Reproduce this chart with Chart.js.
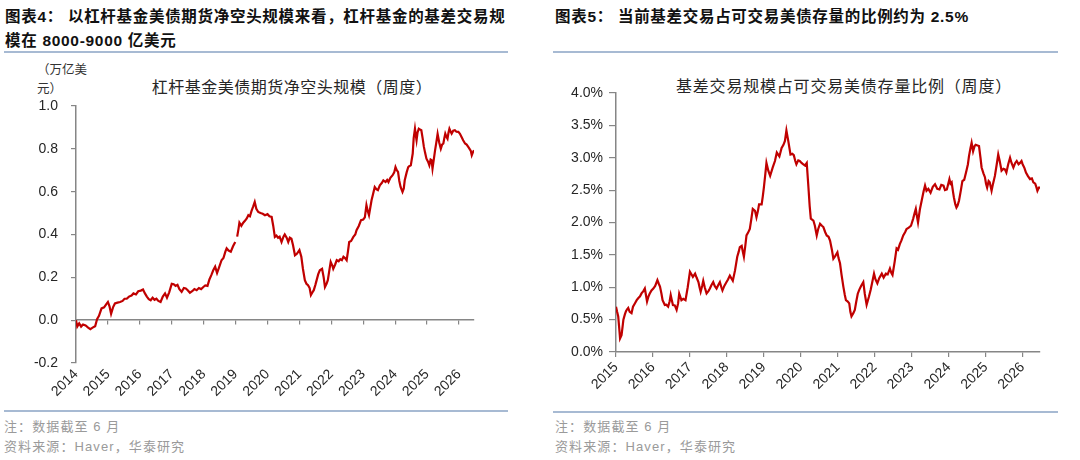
<!DOCTYPE html>
<html>
<head>
<meta charset="utf-8">
<script src="https://cdn.jsdelivr.net/npm/chart.js@4.4.1/dist/chart.umd.min.js"></script>
<style>
  body { margin: 0; background: #fff; width: 1080px; height: 460px; position: relative; overflow: hidden;
         font-family: "Liberation Sans", "Noto Sans CJK SC", sans-serif; }
  .hd { position: absolute; font-weight: bold; font-size: 15.5px; line-height: 24px; color: #111; letter-spacing: 0.7px; white-space: nowrap; }
  .rule { position: absolute; height: 2px; background: #a7bad3; }
  .note { position: absolute; font-size: 13px; line-height: 20px; color: #9a9a9a; letter-spacing: 1.1px; }
  .ttl { position: absolute; font-size: 16px; color: #262626; white-space: nowrap; transform: translate(-50%, -50%); letter-spacing: 0.5px; }
  .unit { position: absolute; font-size: 12.5px; line-height: 19px; color: #333; width: 56px; }
  canvas { position: absolute; }
</style>
</head>
<body>
<div class="hd" style="left:5px;top:5px;">图表4：&nbsp;以杠杆基金美债期货净空头规模来看，杠杆基金的基差交易规<br>模在 8000-9000 亿美元</div>
<div class="hd" style="left:555px;top:5px;">图表5：&nbsp;当前基差交易占可交易美债存量的比例约为 2.5%</div>
<div class="rule" style="left:4px;top:51px;width:504px;"></div>
<div class="rule" style="left:553px;top:51px;width:505px;"></div>

<div class="unit" style="left:37px;top:61px;">（万亿美元）</div>
<div class="ttl" style="left:292px;top:86px;">杠杆基金美债期货净空头规模（周度）</div>
<div class="ttl" style="left:844px;top:85px;letter-spacing:0.8px;">基差交易规模占可交易美债存量比例（周度）</div>

<canvas id="levChart" width="540" height="350" style="left:0;top:60px;width:540px;height:350px;"></canvas>
<canvas id="ratioChart" width="540" height="350" style="left:540px;top:60px;width:540px;height:350px;"></canvas>

<div class="rule" style="left:4px;top:410px;width:504px;"></div>
<div class="rule" style="left:553px;top:411px;width:505px;"></div>
<div class="note" style="left:4px;top:417px;">注：数据截至 6 月</div>
<div class="note" style="left:4px;top:437px;">资料来源：Haver，华泰研究</div>
<div class="note" style="left:555px;top:417px;">注：数据截至 6 月</div>
<div class="note" style="left:555px;top:437px;">资料来源：Haver，华泰研究</div>

<script>
// 杠杆基金美债期货净空头规模（万亿美元），周度，x = 年份
var levDates = [
  2014.00,2014.04,2014.10,2014.16,2014.22,2014.30,2014.38,2014.45,2014.52,2014.60,2014.66,2014.72,2014.80,2014.88,2014.95,
  2015.00,2015.05,2015.10,2015.16,2015.22,2015.30,2015.38,2015.46,2015.52,2015.59,2015.66,2015.74,2015.80,2015.88,2015.95,
  2016.03,2016.10,2016.16,2016.22,2016.28,2016.34,2016.40,2016.46,2016.52,2016.58,2016.65,2016.72,2016.79,2016.85,2016.92,
  2017.00,2017.06,2017.12,2017.18,2017.24,2017.31,2017.38,2017.44,2017.50,2017.57,2017.64,2017.71,2017.78,2017.85,2017.92,2017.99,
  2018.05,2018.12,2018.18,2018.24,2018.30,2018.36,2018.42,2018.48,2018.56,2018.62,2018.68,2018.72,2018.78,2018.85,2018.92,2018.99,
  2019.02,2019.05,2019.09,2019.12,2019.18,2019.24,2019.30,2019.35,2019.40,2019.45,2019.50,2019.55,2019.60,2019.65,2019.71,2019.78,2019.85,2019.92,
  2020.00,2020.06,2020.13,2020.18,2020.23,2020.28,2020.33,2020.38,2020.44,2020.50,2020.54,2020.60,2020.65,2020.70,2020.75,2020.80,2020.86,2020.92,
  2021.00,2021.06,2021.11,2021.17,2021.22,2021.27,2021.32,2021.36,2021.41,2021.45,2021.50,2021.54,2021.59,2021.64,2021.71,2021.76,2021.80,2021.85,2021.89,2021.94,2021.98,
  2022.03,2022.06,2022.12,2022.17,2022.23,2022.28,2022.33,2022.38,2022.43,2022.48,2022.52,2022.56,2022.62,2022.69,2022.75,2022.79,2022.86,2022.93,
  2023.00,2023.05,2023.10,2023.14,2023.18,2023.22,2023.26,2023.31,2023.36,2023.41,2023.46,2023.52,2023.58,2023.63,2023.70,2023.75,2023.79,2023.85,2023.92,2023.97,
  2024.01,2024.05,2024.09,2024.13,2024.17,2024.23,2024.27,2024.30,2024.36,2024.41,2024.45,2024.49,2024.55,2024.58,2024.62,2024.65,2024.67,2024.70,2024.74,2024.78,2024.82,2024.86,2024.90,2024.94,2024.98,
  2025.03,2025.07,2025.11,2025.14,2025.17,2025.21,2025.25,2025.29,2025.33,2025.38,2025.43,2025.47,2025.51,2025.54,2025.57,2025.61,2025.64,2025.67,2025.70,2025.74,2025.77,2025.82,2025.87,2025.92,2025.98,
  2026.03,2026.08,2026.13,2026.19,2026.24,2026.29,2026.33,2026.37,2026.40,2026.44,2026.47
];
var levValues = [
  0.00,-0.03,-0.015,-0.03,-0.02,-0.025,-0.035,-0.042,-0.035,-0.028,0.005,0.02,0.055,0.06,0.075,
  0.085,0.065,0.03,0.06,0.078,0.082,0.085,0.09,0.10,0.10,0.11,0.115,0.125,0.12,0.135,
  0.138,0.143,0.125,0.11,0.098,0.093,0.105,0.095,0.10,0.09,0.085,0.11,0.125,0.105,0.13,
  0.17,0.168,0.16,0.165,0.145,0.132,0.15,0.148,0.14,0.128,0.135,0.145,0.14,0.15,0.145,0.155,
  0.162,0.16,0.19,0.21,0.233,0.25,0.22,0.245,0.28,0.29,0.32,0.335,0.325,0.32,0.345,0.365,
  null,0.39,0.425,0.455,0.44,0.455,0.465,0.475,0.49,0.485,0.51,0.53,0.552,0.52,0.505,0.50,0.497,0.49,
  0.495,0.485,0.482,0.44,0.389,0.395,0.385,0.39,0.365,0.39,0.40,0.385,0.365,0.385,0.38,0.35,0.303,0.31,
  0.327,0.296,0.24,0.187,0.17,0.163,0.15,0.117,0.13,0.14,0.165,0.187,0.215,0.233,0.24,0.20,0.155,0.17,0.187,0.235,0.272,
  0.255,0.24,0.26,0.28,0.275,0.285,0.28,0.296,0.29,0.28,0.32,0.365,0.37,0.389,0.40,0.42,0.44,0.467,
  0.47,0.48,0.537,0.51,0.49,0.525,0.56,0.59,0.622,0.612,0.607,0.63,0.64,0.653,0.645,0.655,0.645,0.665,0.677,0.69,
  0.715,0.70,0.692,0.65,0.622,0.599,0.615,0.653,0.69,0.715,0.72,0.723,0.778,0.85,0.894,0.86,0.84,0.875,0.894,0.89,0.887,0.85,0.809,0.78,0.754,
  0.74,0.723,0.75,0.747,0.708,0.75,0.793,0.83,0.87,0.83,0.801,0.82,0.825,0.85,0.871,0.855,0.847,0.875,0.894,0.88,0.871,0.885,0.887,0.88,0.879,
  0.87,0.855,0.84,0.825,0.82,0.809,0.80,0.79,0.77,0.785,0.793
];

// 基差交易规模占可交易美债存量比例（%），周度
var ratioDates = [
  2015.00,2015.03,2015.06,2015.09,2015.11,2015.15,2015.18,2015.20,2015.24,2015.27,2015.30,2015.33,2015.37,2015.42,2015.46,2015.51,2015.56,2015.60,2015.65,2015.69,2015.74,2015.78,2015.81,2015.84,2015.88,2015.91,2015.96,
  2016.01,2016.06,2016.12,2016.16,2016.19,2016.23,2016.26,2016.32,2016.36,2016.41,2016.45,2016.48,2016.51,2016.54,2016.59,2016.64,2016.68,2016.71,2016.74,2016.77,2016.82,2016.88,2016.94,
  2017.00,2017.04,2017.08,2017.14,2017.18,2017.23,2017.26,2017.29,2017.33,2017.36,2017.40,2017.45,2017.50,2017.54,2017.58,2017.63,2017.67,2017.72,2017.77,2017.81,2017.85,2017.88,2017.93,2017.99,
  2018.03,2018.08,2018.12,2018.16,2018.22,2018.28,2018.32,2018.35,2018.40,2018.43,2018.46,2018.50,2018.53,2018.57,2018.62,2018.66,2018.70,2018.76,2018.80,2018.84,2018.87,2018.94,2018.97,
  2019.00,2019.04,2019.07,2019.12,2019.17,2019.24,2019.30,2019.35,2019.42,2019.48,2019.53,2019.57,2019.61,2019.66,2019.72,2019.77,2019.81,2019.85,2019.88,2019.93,2019.97,
  2020.02,2020.06,2020.11,2020.16,2020.20,2020.24,2020.27,2020.34,2020.38,2020.43,2020.47,2020.52,2020.57,2020.61,2020.66,2020.70,2020.75,2020.79,2020.84,2020.88,2020.93,2020.99,
  2021.02,2021.06,2021.10,2021.15,2021.19,2021.22,2021.27,2021.31,2021.34,2021.37,2021.42,2021.46,2021.50,2021.54,2021.58,2021.63,2021.69,2021.73,2021.78,2021.84,2021.89,2021.94,2021.98,
  2022.02,2022.07,2022.12,2022.19,2022.24,2022.30,2022.35,2022.41,2022.45,2022.48,2022.54,2022.59,2022.63,2022.68,2022.72,2022.77,2022.82,2022.86,2022.92,2022.98,
  2023.04,2023.08,2023.11,2023.14,2023.17,2023.22,2023.27,2023.32,2023.36,2023.40,2023.45,2023.51,2023.57,2023.63,2023.69,2023.75,2023.80,2023.86,2023.90,2023.95,
  2024.02,2024.05,2024.08,2024.11,2024.14,2024.18,2024.21,2024.24,2024.28,2024.33,2024.37,2024.42,2024.48,2024.52,2024.55,2024.59,2024.62,2024.66,2024.70,2024.73,2024.78,2024.82,2024.86,2024.89,2024.94,2024.98,
  2025.01,2025.04,2025.08,2025.11,2025.16,2025.20,2025.25,2025.30,2025.34,2025.38,2025.43,2025.48,2025.52,2025.56,2025.61,2025.66,2025.70,2025.75,2025.80,2025.84,2025.89,2025.93,2025.97,
  2026.00,2026.05,2026.09,2026.14,2026.20,2026.25,2026.29,2026.34,2026.37,2026.40,2026.44,2026.47
];
var ratioValues = [
  0.70,0.62,0.55,0.35,0.21,0.26,0.40,0.50,0.58,0.63,0.66,0.68,0.62,0.60,0.70,0.75,0.80,0.83,0.86,0.905,0.94,0.98,0.88,0.78,0.86,0.90,0.95,
  0.98,1.02,1.11,1.05,1.01,0.90,0.80,0.725,0.73,0.70,0.78,0.88,0.80,0.725,0.72,0.65,0.75,0.90,0.85,0.80,0.82,0.80,1.00,
  1.24,1.20,1.16,1.21,1.15,1.08,1.00,0.93,1.02,1.10,1.00,0.905,0.94,0.98,1.03,1.08,1.02,0.98,1.04,1.08,1.00,0.95,1.02,1.08,
  1.12,1.18,1.14,1.10,1.26,1.47,1.55,1.62,1.64,1.55,1.47,1.65,1.80,1.84,1.90,2.05,2.21,2.18,2.08,2.18,2.28,2.28,2.40,
  2.54,2.75,2.92,2.80,2.72,2.85,2.95,3.08,3.02,3.15,3.20,3.26,3.42,3.26,3.05,3.06,3.04,2.95,2.90,2.96,2.95,
  2.92,2.90,2.88,2.92,2.59,2.25,2.06,2.03,1.95,1.80,1.90,1.98,1.95,1.93,1.85,1.80,1.78,1.72,1.58,1.44,1.48,1.54,
  1.45,1.37,1.20,1.01,0.88,0.80,0.78,0.75,0.62,0.55,0.60,0.65,0.78,0.90,0.96,1.02,1.08,0.90,0.73,0.85,0.96,1.10,1.21,
  1.12,1.06,1.14,1.21,1.15,1.21,1.20,1.29,1.22,1.19,1.40,1.60,1.58,1.67,1.72,1.80,1.85,1.90,1.92,1.95,
  2.06,2.15,2.21,2.10,2.00,2.20,2.34,2.48,2.57,2.49,2.52,2.46,2.55,2.59,2.52,2.51,2.58,2.57,2.50,2.51,
  2.67,2.60,2.62,2.50,2.39,2.28,2.23,2.26,2.34,2.50,2.64,2.66,2.80,2.90,3.03,3.15,3.23,3.10,3.18,3.20,3.19,3.18,3.00,2.85,2.76,2.70,
  2.60,2.54,2.64,2.62,2.49,2.60,2.72,2.90,3.05,2.95,2.80,2.83,2.82,2.77,2.90,3.00,2.92,2.85,2.92,2.95,2.90,2.92,2.95,
  2.90,2.84,2.77,2.72,2.67,2.68,2.62,2.60,2.55,2.49,2.54,2.54
];

var levYearTicks = [-0.2, 0, 0.2, 0.4, 0.6, 0.8, 1.0];
var ratioPctTicks = [0, 0.5, 1.0, 1.5, 2.0, 2.5, 3.0, 3.5, 4.0];

var red = '#c00000';
var axisGrey = '#868686';
var tickFont = { family: 'Liberation Sans', size: 14 };
var tickColor = '#262626';

function pairs(xs, ys) {
  return xs.map(function (x, i) { return { x: x, y: ys[i] }; });
}

function yearLabel(v) {
  return Number.isInteger(v) ? String(v) : '';
}

Chart.defaults.animation = false;

new Chart(document.getElementById('levChart'), {
  type: 'line',
  data: {
    datasets: [{
      data: pairs(levDates, levValues),
      borderColor: red,
      borderWidth: 2.2,
      pointRadius: 0,
      spanGaps: false,
      tension: 0
    }]
  },
  options: {
    responsive: false,
    layout: { padding: { left: 0, top: 46, right: 66, bottom: 0 } },
    plugins: { legend: { display: false }, tooltip: { enabled: false } },
    scales: {
      x: {
        type: 'linear', position: 'bottom', min: 2014, max: 2026.47,
        border: { display: false },
        grid: { display: false, drawTicks: false },
        ticks: {
          stepSize: 1, includeBounds: false, autoSkip: false,
          minRotation: 45, maxRotation: 45, padding: 3,
          font: tickFont, color: tickColor, callback: yearLabel
        },
        afterFit: function (s) { s.height = 47; }
      },
      x0: {
        type: 'linear', axis: 'x', position: { y: 0 }, min: 2014, max: 2026.47,
        border: { color: axisGrey, width: 1.5 },
        grid: { drawOnChartArea: false, drawTicks: true, tickLength: 4, color: axisGrey, lineWidth: 1.2 },
        ticks: { stepSize: 1, includeBounds: false, display: false }
      },
      y: {
        min: -0.2, max: 1.0,
        afterBuildTicks: function (s) { s.ticks = levYearTicks.map(function (v) { return { value: v }; }); },
        border: { color: axisGrey, width: 1.5 },
        grid: { drawOnChartArea: false, drawTicks: true, tickLength: 5, color: axisGrey, lineWidth: 1.2 },
        ticks: { font: tickFont, color: tickColor, padding: 13,
                 callback: function (v) { return Number(v).toFixed(1); } },
        afterFit: function (s) { s.width = 76; }
      }
    }
  }
});

new Chart(document.getElementById('ratioChart'), {
  type: 'line',
  data: {
    datasets: [{
      data: pairs(ratioDates, ratioValues),
      borderColor: red,
      borderWidth: 2.2,
      pointRadius: 0,
      tension: 0
    }]
  },
  options: {
    responsive: false,
    layout: { padding: { left: 0, top: 33, right: 40, bottom: 0 } },
    plugins: { legend: { display: false }, tooltip: { enabled: false } },
    scales: {
      x: {
        type: 'linear', position: 'bottom', min: 2015, max: 2026.47,
        border: { color: axisGrey, width: 1.5 },
        grid: { drawOnChartArea: false, drawTicks: true, tickLength: 5, color: axisGrey, lineWidth: 1.2 },
        ticks: {
          stepSize: 1, includeBounds: false, autoSkip: false,
          minRotation: 45, maxRotation: 45, padding: 2,
          font: tickFont, color: tickColor, callback: yearLabel
        },
        afterFit: function (s) { s.height = 58; }
      },
      y: {
        min: 0, max: 4,
        afterBuildTicks: function (s) { s.ticks = ratioPctTicks.map(function (v) { return { value: v }; }); },
        border: { color: axisGrey, width: 1.5 },
        grid: { drawOnChartArea: false, drawTicks: true, tickLength: 7, color: axisGrey, lineWidth: 1.2 },
        ticks: { font: tickFont, color: tickColor, padding: 6,
                 callback: function (v) { return Number(v).toFixed(1) + '%'; } },
        afterFit: function (s) { s.width = 76; }
      }
    }
  }
});
</script>
</body>
</html>
